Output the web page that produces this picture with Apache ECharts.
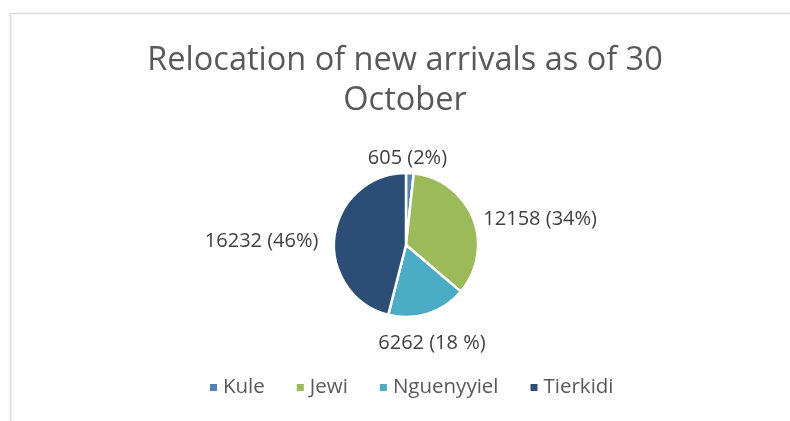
<!DOCTYPE html>
<html>
<head>
<meta charset="utf-8">
<script src="https://cdn.jsdelivr.net/npm/echarts@6/dist/echarts.min.js"></script>
<style>
  html, body { margin: 0; padding: 0; background: #fff; }
  #chart { width: 790px; height: 421px; }
</style>
</head>
<body>
<div id="chart"></div>
<script>
// camps and how many new arrivals went to each
const camps = ['Kule', 'Jewi', 'Nguenyyiel', 'Tierkidi'];
const arrivals = [605, 12158, 6262, 16232];
const pctLabels = ['2%', '34%', '18 %', '46%'];
const colors = ['#4f81bd', '#9bbb59', '#4bacc6', '#2c4d75'];

// nudge labels so they sit where excel put them
const labelNudge = [[-8, -5], [53, 5], [-4, 20], [-58, 6]];

const chart = echarts.init(document.getElementById('chart'));

const option = {
  animation: false,
  color: colors,
  textStyle: { fontFamily: 'Open Sans, Liberation Sans, sans-serif' },
  graphic: [{
    type: 'rect',
    left: 8,
    top: 11,
    shape: { width: 900, height: 500 },
    style: { fill: 'none', stroke: '#d9d9d9', lineWidth: 1.5 },
    silent: true
  }],
  title: {
    text: 'Relocation of new arrivals as of 30\nOctober',
    left: 400,
    textAlign: 'center',
    top: 36,
    textStyle: {
      color: '#595959',
      fontSize: 32.5,
      fontWeight: 'normal',
      lineHeight: 40
    }
  },
  legend: {
    bottom: 18,
    left: 203,
    icon: 'rect',
    itemWidth: 9,
    itemHeight: 9,
    itemGap: 30,
    textStyle: { color: '#595959', fontSize: 20.5 },
    data: camps
  },
  series: [{
    type: 'pie',
    center: [406, 245],
    radius: 72,
    startAngle: 90,
    clockwise: true,
    itemStyle: { borderColor: '#fff', borderWidth: 2.5 },
    label: {
      show: true,
      position: 'outside',
      color: '#404040',
      fontSize: 20,
      formatter: (p) => p.value + ' (' + pctLabels[p.dataIndex] + ')'
    },
    labelLine: { show: false, length: 10, length2: 0 },
    labelLayout: (p) => ({
      align: 'center',
      dx: labelNudge[p.dataIndex][0],
      dy: labelNudge[p.dataIndex][1]
    }),
    data: camps.map((c, i) => ({ name: c, value: arrivals[i] }))
  }]
};

chart.setOption(option);
</script>
</body>
</html>
